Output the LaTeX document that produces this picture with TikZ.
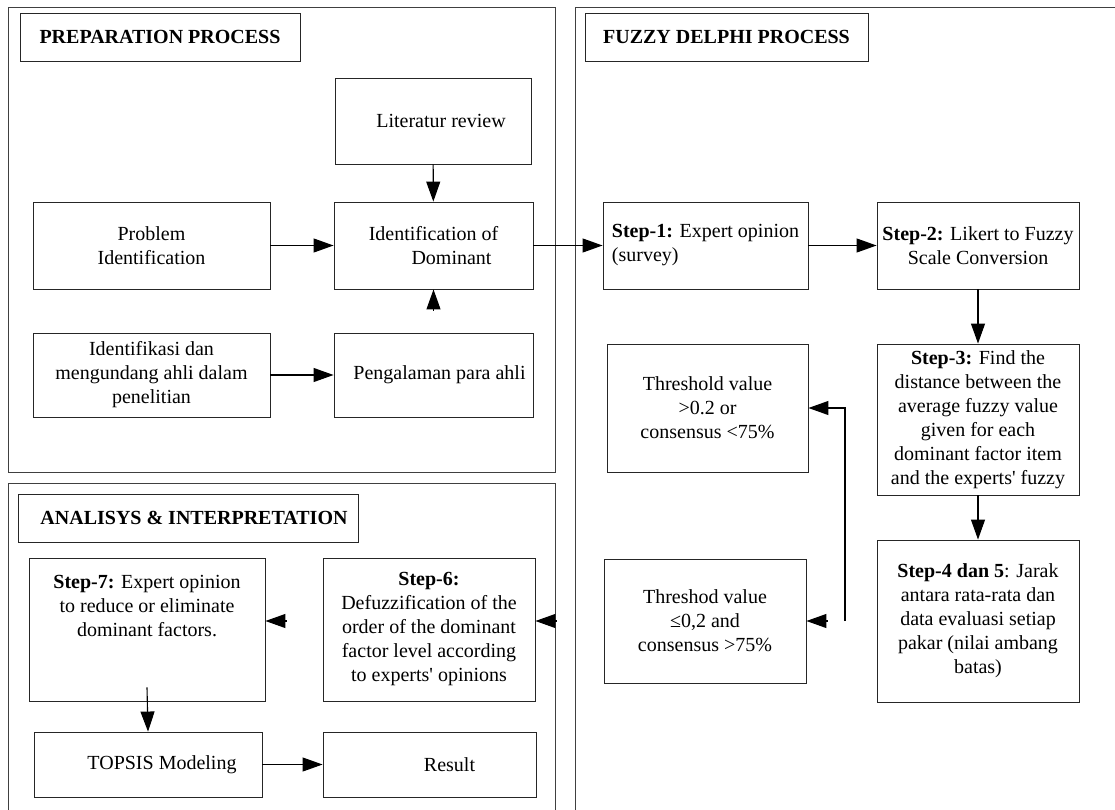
\documentclass[tikz,border=0pt]{standalone}
\usepackage{fontspec}
\setmainfont{Liberation Serif}[Ligatures=TeXOff]
\usetikzlibrary{arrows.meta}
\begin{document}
\begin{tikzpicture}[x=1pt,y=-1pt, font=\fontsize{20}{24}\selectfont,
  box/.style={draw=black!85, line width=0.9pt, inner xsep=3pt, inner ysep=2pt, align=center},
  panel/.style={draw=black!75, line width=0.9pt},
  arr/.style={draw=black, line width=1.1pt, -{Triangle[length=20pt,width=14pt]}}]
\clip (0,0) rectangle (1115,810);
\fill[white] (0,0) rectangle (1115,810);
% panels
\draw[panel] (8,7) rectangle (555,472);
\draw[panel] (575,7) rectangle (1140,840);
\draw[panel] (8,483) rectangle (555,840);
% titles
\node[box, minimum width=280, minimum height=48] (prepT) at (160,37) {\textbf{PREPARATION PROCESS}};
\node[box, minimum width=283, minimum height=48] (fuzT) at (726.5,37) {\textbf{FUZZY DELPHI PROCESS}};
\node[box, minimum width=340, minimum height=48] (anaT) at (188,518) {\hspace*{12pt}\textbf{ANALISYS \& INTERPRETATION}};
% preparation
\node[box, minimum width=196, minimum height=86] (lit) at (433,121) {\hspace*{16pt}Literatur review};
\node[box, minimum width=237, minimum height=87] (prob) at (151.5,245.5) {Problem\\Identification};
\node[box, minimum width=199, minimum height=87] (iddom) at (433.5,245.5) {Identification of\\\hspace*{36pt}Dominant};
\node[box, minimum width=237, minimum height=84] (ident) at (151.5,375) {Identifikasi dan\\mengundang ahli dalam\\penelitian};
\node[box, minimum width=199, minimum height=84] (peng) at (433.5,375) {\hspace*{12pt}Pengalaman para ahli};
% fuzzy delphi
\node[box, align=left, minimum width=205, minimum height=87] (s1) at (705.5,245.5) {\textbf{Step-1:} Expert opinion\\(survey)};
\node[box, minimum width=202, minimum height=87] (s2) at (978,245.5) {\textbf{Step-2:} Likert to Fuzzy\\Scale Conversion};
\node[box, minimum width=202, minimum height=151] (s3) at (978,419.5) {\textbf{Step-3:} Find the\\distance between the\\average fuzzy value\\given for each\\dominant factor item\\and the experts' fuzzy};
\node[box, minimum width=202, minimum height=162] (s45) at (978,621) {\textbf{Step-4 dan 5}: Jarak\\antara rata-rata dan\\data evaluasi setiap\\pakar (nilai ambang\\batas)};
\node[box, minimum width=201, minimum height=128] (thr1) at (707.5,408) {Threshold value\\>0.2 or\\consensus <75\%};
\node[box, minimum width=202, minimum height=124] (thr2) at (705,621) {Threshod value\\≤0,2 and\\consensus >75\%};
% analysis
\node[box, minimum width=236, minimum height=143] (s7) at (147,629.5) {\textbf{Step-7:} Expert opinion\\to reduce or eliminate\\dominant factors.\\~\\~};
\node[box, minimum width=212, minimum height=143] (s6) at (429,629.5) {\textbf{Step-6:}\\Defuzzification of the\\order of the dominant\\factor level according\\to experts' opinions};
\node[box, minimum width=228, minimum height=65] (topsis) at (148,764.5) {\hspace*{28pt}TOPSIS Modeling};
\node[box, minimum width=213, minimum height=65] (result) at (429.5,764.5) {\hspace*{40pt}Result};
% connectors
\draw[arr] (lit) -- (iddom);
\draw[arr] (prob) -- (iddom);
\draw[arr] (ident) -- (peng);
\draw[arr, shorten <=22pt] (peng) -- (iddom);
\draw[arr] (iddom) -- (s1);
\draw[arr] (s1) -- (s2);
\draw[arr] (s2) -- (s3);
\draw[arr] (s3) -- (s45);
\coordinate (fb) at (845,621);
\draw[arr] (fb) |- (thr1);
\draw[arr, shorten <=49pt] (s45) -- (thr2);
\draw[arr, shorten <=47pt] (thr2.west) -- (thr2.west -| s6.east);
\draw[arr, shorten <=36pt] (s6.west |- thr2.west) -- (s7.east |- thr2.west);
\draw[arr] ([yshift=14pt]s7.south) -- (topsis.north);
\draw[arr] (topsis) -- (result);
\end{tikzpicture}
\end{document}
